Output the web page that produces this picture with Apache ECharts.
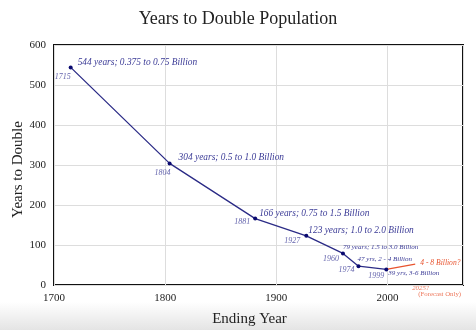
<!DOCTYPE html>
<html><head><meta charset="utf-8">
<script src="https://cdn.jsdelivr.net/npm/echarts@6/dist/echarts.min.js"></script>
<style>html,body{margin:0;padding:0;background:#fff}#c{width:476px;height:330px}</style>
</head><body><div id="c"></div>
<script>
// Data
const years = [1715, 1804, 1881, 1927, 1960, 1974, 1999];
const yearsToDouble = [544, 304, 166, 123, 79, 47, 39];
const descriptions = [
  "544 years; 0.375 to 0.75 Billion",
  "304 years; 0.5 to 1.0 Billion",
  "166 years; 0.75 to 1.5 Billion",
  "123 years; 1.0 to 2.0 Billion",
  "79 years; 1.5 to 3.0 Billion",
  "47 yrs, 2 - 4 Billion",
  "39 yrs, 3-6 Billion"
];
const forecastYears = [1999, 2025];
const forecastValues = [39, 52];
const forecastLabel = "4 - 8 Billion?";
const forecastYearLabel = "2025?";
const forecastNote = "(Forecast Only)";
const xTicks = [1700, 1800, 1900, 2000];
const yTicks = [0, 100, 200, 300, 400, 500, 600];

// Layout (label offsets / sizes)
const descOffsets = [[5,-5],[7,-6],[2,-5],[0,-5],[-2,-6],[-3,-7],[0,4]];
const descSizes = [9.4,9.4,9.4,9.4,7,7,7];
const yearOffsets = [[0,9],[1,9],[-5,3],[-6,5],[-4,5],[-4,4],[-2,6]];

const navy = '#2b2b86';
const labNavy = '#3a3a96';
const red = '#e8532e';
const serif = '"Liberation Serif","DejaVu Serif",serif';

const chart = echarts.init(document.getElementById('c'));
const mainData = years.map((y,i)=>({
  value:[y, yearsToDouble[i]],
  label:{show:true, formatter:descriptions[i], position:'right', distance:0,
    offset:descOffsets[i], fontSize:descSizes[i], fontStyle:'italic', fontFamily:serif, color:labNavy}
}));
const yearData = years.map((y,i)=>({
  value:[y, yearsToDouble[i]],
  label:{show:true, formatter:String(y), position:'left', distance:0,
    offset:yearOffsets[i], fontSize:8, fontStyle:'italic', fontFamily:serif, color:labNavy}
}));
const fp = [forecastYears[1], forecastValues[1]];
chart.setOption({
  animation:false,
  backgroundColor:'#fff',
  graphic:[{type:'rect', z:-10, shape:{x:0,y:302,width:476,height:28},
    style:{fill:new echarts.graphic.LinearGradient(0,0,0,1,[{offset:0,color:'#ffffff'},{offset:1,color:'#e4e4e4'}])}}],
  title:{text:'Years to Double Population', left:'center', top:5,
    textStyle:{fontFamily:serif, fontWeight:'normal', fontSize:18, color:'#222'}},
  grid:{left:54, right:13, top:45, bottom:45, outerBoundsMode:'none', containLabel:false,
    show:true, borderColor:'#111', borderWidth:2, backgroundColor:'transparent'},
  xAxis:{type:'value', min:1700, max:2068, interval:100,
    name:'Ending Year', nameLocation:'middle', nameGap:27, nameMoveOverlap:false,
    nameTextStyle:{fontFamily:serif, fontSize:15, color:'#222', padding:[0,18,0,0]},
    axisLine:{show:false}, axisTick:{show:false},
    axisLabel:{fontFamily:serif, fontSize:11, color:'#222', margin:8, showMaxLabel:false,
      formatter:v=>xTicks.includes(v)?String(v):''},
    splitLine:{show:true, lineStyle:{color:'#dddddd', width:1}}},
  yAxis:{type:'value', min:0, max:600, interval:100,
    name:'Years to Double', nameLocation:'middle', nameGap:28, nameMoveOverlap:false,
    nameTextStyle:{fontFamily:serif, fontSize:15, color:'#222', padding:[0,9,0,0]},
    axisLine:{show:false}, axisTick:{show:false},
    axisLabel:{fontFamily:serif, fontSize:11, color:'#222', margin:8,
      formatter:v=>yTicks.includes(v)?String(v):''},
    splitLine:{show:true, lineStyle:{color:'#dddddd', width:1}}},
  series:[
    {type:'line', data:forecastYears.map((y,i)=>({value:[y,forecastValues[i]],
      label:{show:i===1, formatter:forecastLabel, position:'right', distance:5, offset:[0,-1],
        fontSize:7.6, fontStyle:'italic', fontFamily:serif, color:red}})),
     lineStyle:{color:red, width:1.3}, itemStyle:{color:red}, symbol:'circle', symbolSize:[0,4], showSymbol:true, z:2},
    {type:'scatter', data:[
      {value:fp, label:{show:true, formatter:forecastYearLabel, position:[-3,21],
        fontSize:6.8, fontStyle:'italic', fontFamily:serif, color:red}},
      {value:fp, label:{show:true, formatter:forecastNote, position:[3,27],
        fontSize:6.8, fontFamily:serif, color:red}}],
      symbolSize:0, z:3},
    {type:'line', data:mainData, lineStyle:{color:navy, width:1.3}, itemStyle:{color:'#0a0a70'},
     symbol:'circle', symbolSize:4, showSymbol:true, z:4},
    {type:'scatter', data:yearData, symbolSize:0, z:5}
  ]
});
</script></body></html>
